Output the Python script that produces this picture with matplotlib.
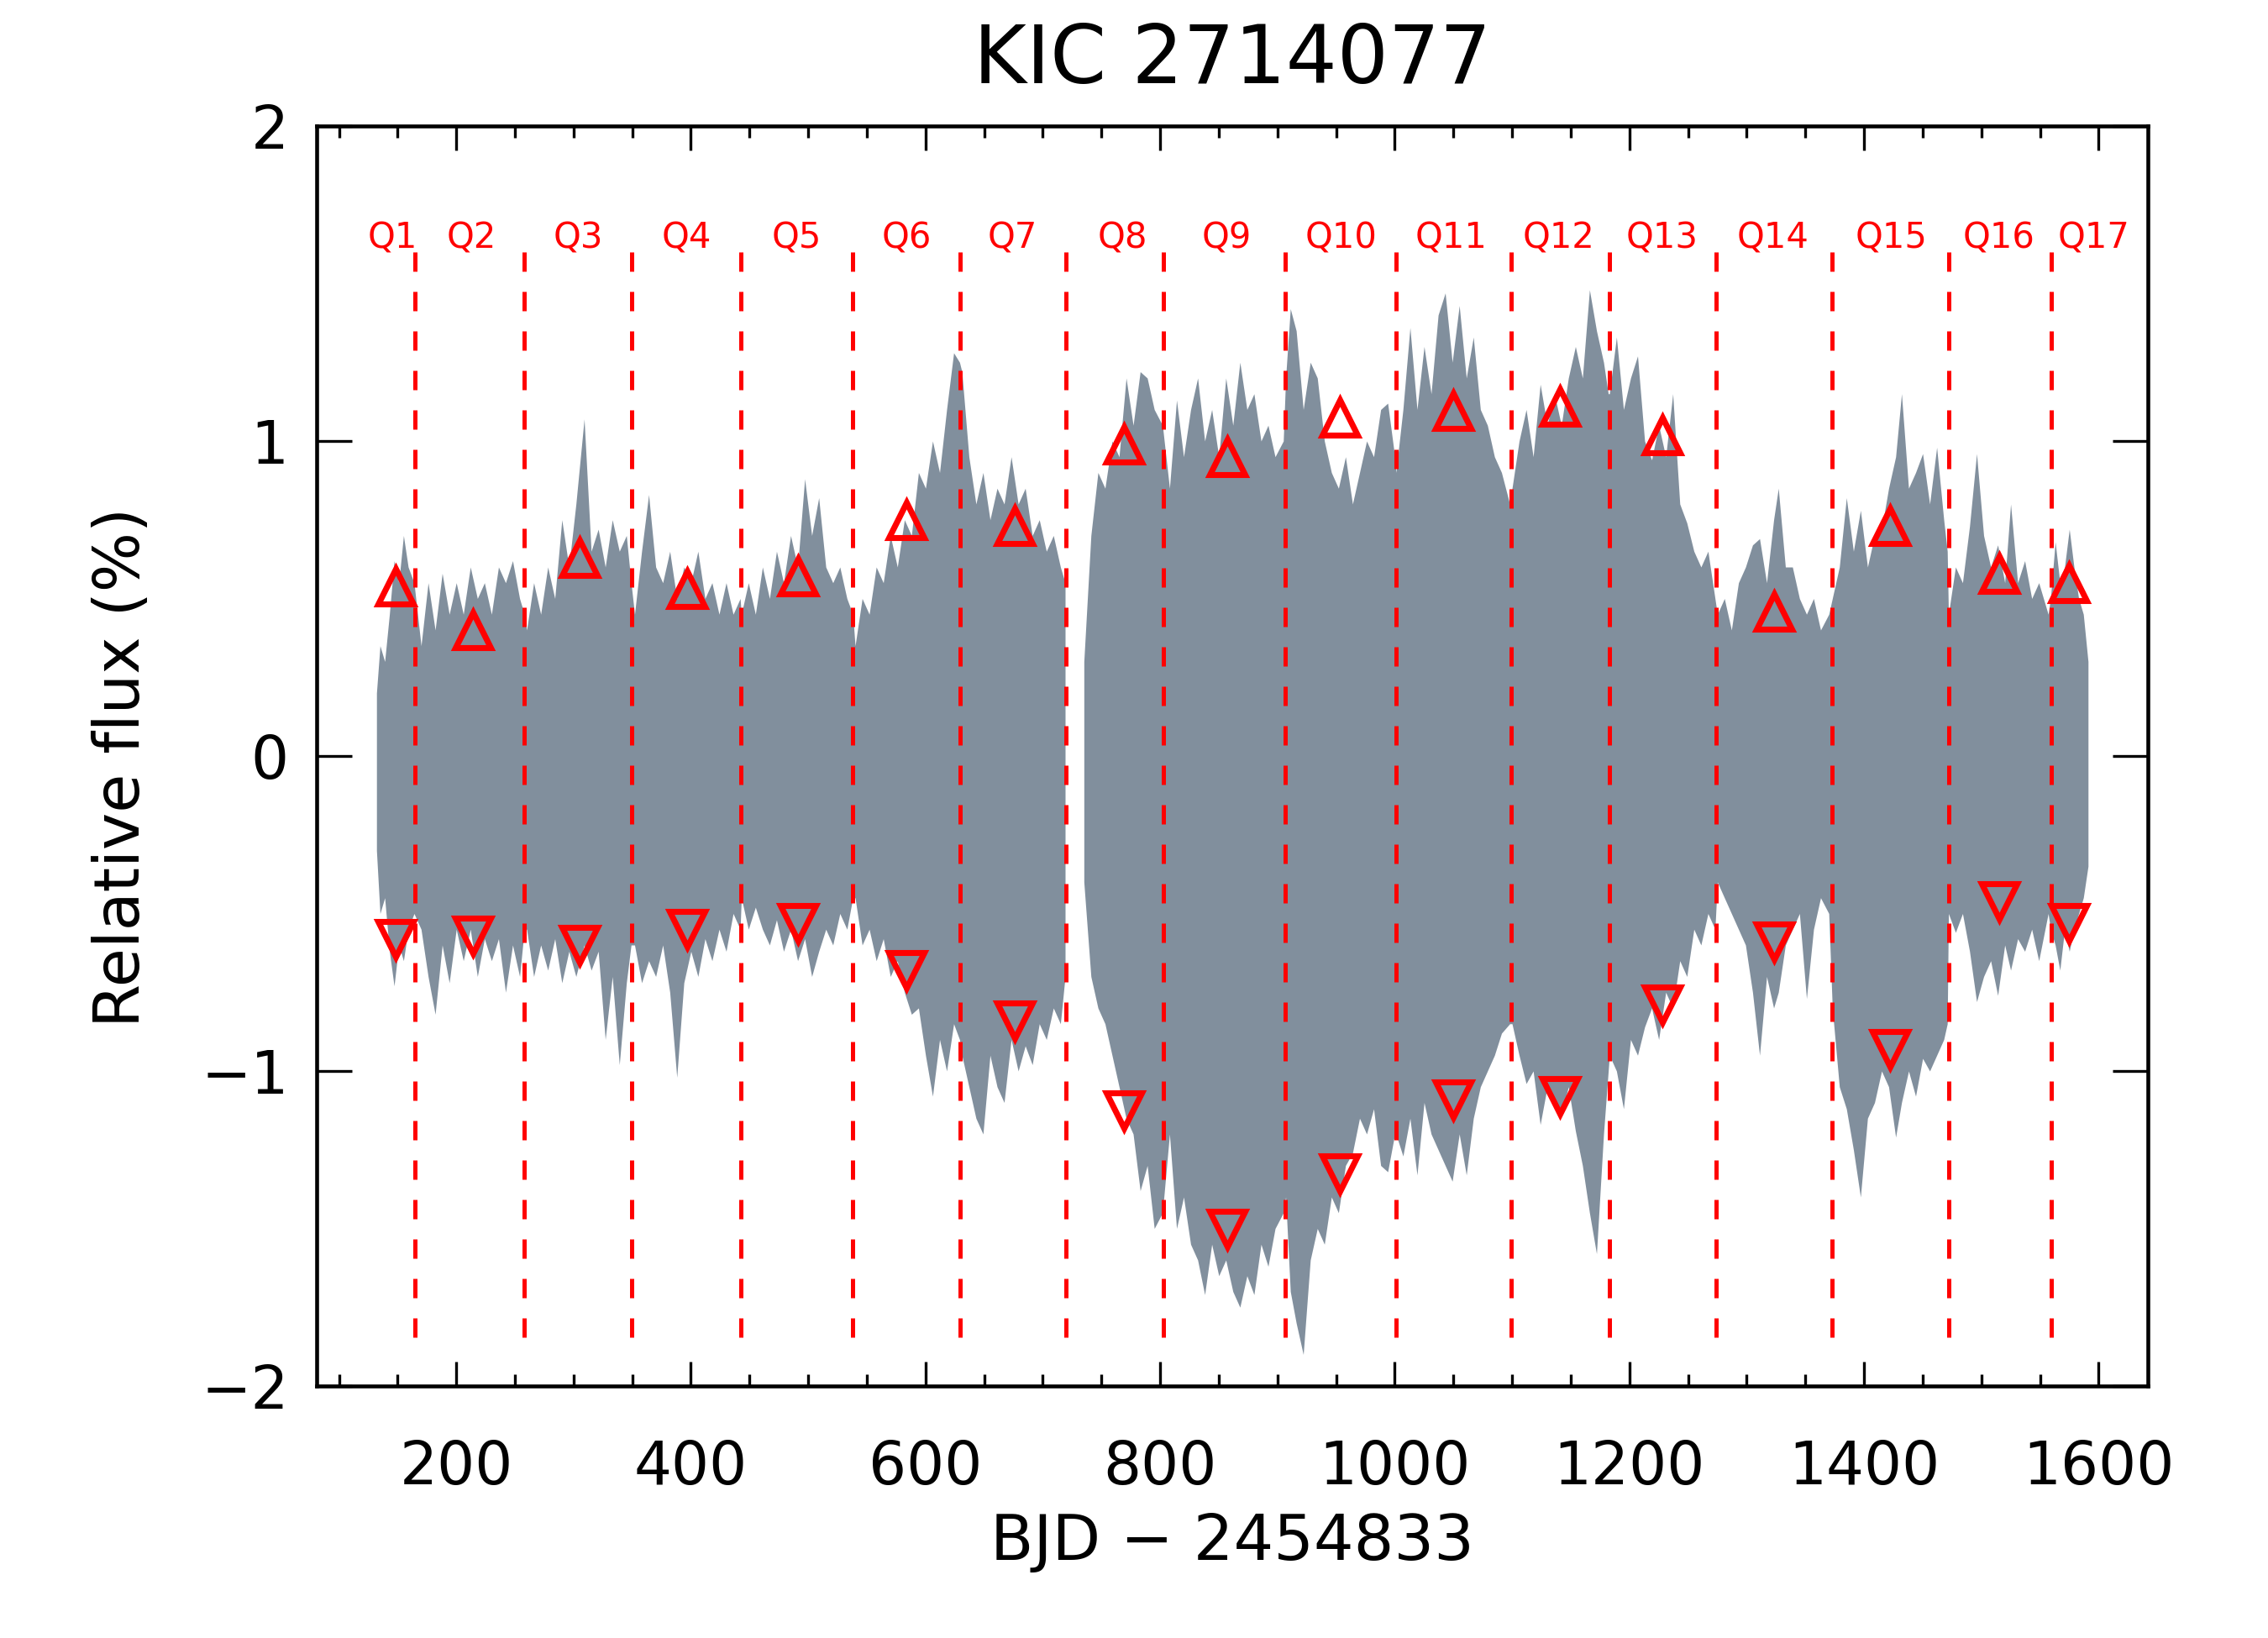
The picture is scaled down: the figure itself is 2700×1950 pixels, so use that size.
import numpy as np
import matplotlib
matplotlib.use("Agg")
import matplotlib.pyplot as plt
from matplotlib.ticker import MultipleLocator

# ---------------- data ----------------
# light-curve envelope: time (BJD-2454833), upper and lower flux envelope (%)
t_nodes = [
    132, 135, 139, 143, 147, 151, 155, 159, 164,
    170, 176, 182, 188, 194, 200, 206, 212, 218, 224, 230, 236, 242, 248, 254, 258,
    260, 266, 272, 278, 284, 290, 296, 302, 309, 315, 321, 327, 333, 339, 345, 349,
    352, 358, 364, 370, 376, 382, 388, 394, 400, 406, 412, 418, 424, 430, 436, 442,
    443, 449, 455, 461, 467, 473, 479, 485, 491, 497, 503, 509, 515, 521, 527, 533, 538,
    540, 546, 552, 558, 564, 570, 576, 582, 588, 594, 600, 606, 612, 618, 624, 629,
    631, 637, 643, 649, 655, 661, 667, 673, 679, 685, 691, 697, 703, 709, 715, 719,
    735, 741, 747, 753, 759, 765, 771, 777, 783, 789, 795, 802,
    808, 814, 820, 826, 832, 838, 844, 850, 856, 862, 868, 874, 880, 886, 892, 898, 905,
    907, 911, 916, 922, 928, 934, 940, 946, 952, 958, 964, 970, 976, 982, 988, 994, 1000,
    1001, 1007, 1013, 1019, 1025, 1031, 1037, 1043, 1049, 1055, 1061, 1067, 1073, 1079, 1085, 1091, 1098,
    1100, 1106, 1112, 1118, 1124, 1130, 1136, 1142, 1148, 1154, 1160, 1166, 1172, 1178, 1182,
    1183, 1189, 1195, 1201, 1207, 1213, 1219, 1225, 1231, 1237, 1243, 1249, 1255, 1261, 1267, 1273,
    1275, 1281, 1287, 1293, 1299, 1305, 1311, 1317, 1323, 1327, 1333, 1339, 1345, 1351, 1357, 1363, 1370,
    1373, 1379, 1385, 1391, 1397, 1403, 1409, 1415, 1421, 1427, 1432, 1438, 1444, 1450, 1456, 1462, 1468, 1471,
    1472, 1478, 1484, 1490, 1496, 1502, 1508, 1514, 1520, 1525, 1531, 1537, 1543, 1549, 1557,
    1559, 1563, 1567, 1571, 1575, 1579, 1583, 1587, 1591,
]
flux_upper = [
    0.20, 0.35, 0.30, 0.45, 0.62, 0.55, 0.70, 0.60, 0.55,
    0.35, 0.55, 0.40, 0.58, 0.45, 0.55, 0.45, 0.60, 0.50, 0.55, 0.45, 0.60, 0.55, 0.62, 0.50, 0.45,
    0.40, 0.55, 0.45, 0.60, 0.50, 0.75, 0.60, 0.80, 1.07, 0.65, 0.72, 0.60, 0.75, 0.65, 0.70, 0.55,
    0.45, 0.65, 0.83, 0.60, 0.55, 0.65, 0.50, 0.60, 0.55, 0.65, 0.50, 0.55, 0.45, 0.55, 0.45, 0.50,
    0.45, 0.55, 0.45, 0.60, 0.50, 0.65, 0.55, 0.70, 0.60, 0.88, 0.70, 0.82, 0.60, 0.55, 0.60, 0.50, 0.45,
    0.35, 0.50, 0.45, 0.60, 0.55, 0.70, 0.60, 0.75, 0.70, 0.90, 0.85, 1.00, 0.90, 1.10, 1.28, 1.25,
    1.22, 0.95, 0.80, 0.90, 0.75, 0.85, 0.80, 0.95, 0.80, 0.85, 0.70, 0.75, 0.65, 0.70, 0.60, 0.55,
    0.30, 0.70, 0.90, 0.85, 1.00, 0.95, 1.20, 1.05, 1.22, 1.20, 1.10, 1.05,
    0.85, 1.13, 0.95, 1.10, 1.20, 1.00, 1.10, 0.95, 1.20, 1.05, 1.25, 1.10, 1.15, 1.00, 1.05, 0.95, 1.00,
    1.20, 1.42, 1.35, 1.10, 1.25, 1.20, 1.00, 0.90, 0.85, 0.95, 0.80, 0.90, 1.00, 0.95, 1.10, 1.12, 0.95,
    0.90, 1.10, 1.36, 1.10, 1.30, 1.15, 1.40, 1.47, 1.25, 1.43, 1.20, 1.33, 1.10, 1.05, 0.95, 0.90, 0.80,
    0.85, 1.00, 1.10, 0.95, 1.18, 1.05, 1.15, 1.05, 1.20, 1.30, 1.20, 1.48, 1.35, 1.25, 1.15,
    1.15, 1.33, 1.10, 1.20, 1.27, 1.00, 0.94, 1.05, 0.95, 1.15, 0.80, 0.74, 0.65, 0.60, 0.65, 0.50,
    0.45, 0.50, 0.40, 0.55, 0.60, 0.67, 0.69, 0.55, 0.75, 0.85, 0.60, 0.60, 0.50, 0.45, 0.50, 0.40, 0.45,
    0.50, 0.60, 0.82, 0.65, 0.78, 0.60, 0.70, 0.72, 0.85, 0.95, 1.15, 0.85, 0.90, 0.96, 0.80, 0.98, 0.75, 0.65,
    0.45, 0.60, 0.55, 0.73, 0.96, 0.70, 0.60, 0.67, 0.55, 0.80, 0.55, 0.62, 0.50, 0.55, 0.45,
    0.50, 0.68, 0.55, 0.60, 0.72, 0.60, 0.50, 0.45, 0.30,
]
flux_lower = [
    -0.30, -0.50, -0.45, -0.62, -0.73, -0.60, -0.65, -0.55, -0.50,
    -0.55, -0.70, -0.82, -0.60, -0.72, -0.55, -0.65, -0.55, -0.70, -0.58, -0.65, -0.58, -0.75, -0.60, -0.70, -0.55,
    -0.55, -0.70, -0.60, -0.68, -0.58, -0.72, -0.62, -0.70, -0.60, -0.68, -0.62, -0.90, -0.70, -0.98, -0.72, -0.60,
    -0.60, -0.72, -0.65, -0.70, -0.60, -0.75, -1.02, -0.72, -0.62, -0.70, -0.58, -0.65, -0.55, -0.62, -0.50, -0.55,
    -0.45, -0.55, -0.48, -0.55, -0.60, -0.52, -0.62, -0.55, -0.65, -0.58, -0.70, -0.62, -0.55, -0.60, -0.50, -0.55, -0.45,
    -0.45, -0.60, -0.55, -0.65, -0.58, -0.70, -0.65, -0.75, -0.82, -0.80, -0.95, -1.08, -0.90, -1.00, -0.85, -0.90,
    -0.95, -1.05, -1.15, -1.20, -0.95, -1.05, -1.10, -0.90, -1.00, -0.92, -0.98, -0.85, -0.90, -0.80, -0.85, -0.70,
    -0.40, -0.70, -0.80, -0.85, -0.95, -1.05, -1.15, -1.20, -1.38, -1.30, -1.50, -1.45,
    -1.20, -1.50, -1.40, -1.55, -1.60, -1.71, -1.55, -1.65, -1.60, -1.70, -1.75, -1.65, -1.71, -1.55, -1.62, -1.50, -1.45,
    -1.40, -1.70, -1.80, -1.90, -1.60, -1.50, -1.55, -1.40, -1.45, -1.30, -1.26, -1.15, -1.20, -1.12, -1.30, -1.32, -1.20,
    -1.20, -1.27, -1.15, -1.33, -1.10, -1.20, -1.25, -1.30, -1.35, -1.20, -1.33, -1.15, -1.05, -1.00, -0.95, -0.88, -0.85,
    -0.85, -0.95, -1.04, -1.00, -1.17, -1.05, -1.10, -1.14, -1.05, -1.19, -1.30, -1.45, -1.58, -1.20, -1.00,
    -0.95, -1.00, -1.12, -0.90, -0.95, -0.86, -0.80, -0.90, -0.75, -0.80, -0.65, -0.70, -0.55, -0.60, -0.50, -0.55,
    -0.40, -0.45, -0.50, -0.55, -0.60, -0.75, -0.95, -0.70, -0.80, -0.75, -0.60, -0.55, -0.50, -0.77, -0.55, -0.45, -0.50,
    -0.80, -1.05, -1.12, -1.25, -1.40, -1.15, -1.10, -1.00, -1.05, -1.21, -1.10, -1.00, -1.08, -0.96, -1.00, -0.95, -0.90, -0.85,
    -0.50, -0.56, -0.50, -0.62, -0.78, -0.70, -0.65, -0.76, -0.60, -0.68, -0.58, -0.62, -0.55, -0.65, -0.50,
    -0.55, -0.60, -0.68, -0.55, -0.62, -0.55, -0.50, -0.45, -0.35,
]

# quarter boundaries (dashed lines) and quarter labels
quarter_bounds = [164.6, 258.2, 349.5, 442.4, 538.1, 629.7, 719.8, 802.8,
                  906.4, 1000.9, 1099.5, 1182.9, 1274.2, 1372.5, 1472.5, 1559.4]
quarter_labels = ["Q1", "Q2", "Q3", "Q4", "Q5", "Q6", "Q7", "Q8", "Q9",
                  "Q10", "Q11", "Q12", "Q13", "Q14", "Q15", "Q16", "Q17"]
label_x = [146, 213, 304, 396, 490, 584, 674, 768, 857,
           954, 1048, 1140, 1228, 1322, 1423, 1515, 1596]

# per-quarter amplitude markers
tri_time = [148, 214, 305, 397, 491, 584, 676, 769, 857,
            953, 1050, 1141, 1228, 1323, 1422, 1515, 1575]
amp_max = [0.54, 0.40, 0.63, 0.53, 0.57, 0.75, 0.73, 0.99, 0.95,
           1.075, 1.095, 1.11, 1.02, 0.46, 0.73, 0.58, 0.55]
amp_min = [-0.58, -0.57, -0.60, -0.55, -0.53, -0.68, -0.84, -1.125, -1.50,
           -1.325, -1.09, -1.08, -0.79, -0.59, -0.93, -0.46, -0.53]

# ---------------- figure ----------------
GRAY = "#708090"
RED = "#ff0000"

fig = plt.figure(figsize=(9, 6.5), dpi=300)
ax = fig.add_axes([377 / 2700, 1 - 1650 / 1950, 2180 / 2700, 1500 / 1950])

t = np.asarray(t_nodes, float)
up = np.asarray(flux_upper, float)
lo = np.asarray(flux_lower, float)
breaks = np.where(np.diff(t) > 10)[0] + 1
for seg in np.split(np.arange(len(t)), breaks):
    ax.fill_between(t[seg], lo[seg], up[seg], color=GRAY, alpha=0.88,
                    lw=0, zorder=1)

for xb in quarter_bounds:
    ax.plot([xb, xb], [1.60, -1.87], color=RED, lw=1.2,
            linestyle=(0, (4.6, 4.8)), zorder=3)

for lab, xl in zip(quarter_labels, label_x):
    ax.text(xl, 1.643, lab, color=RED, fontsize=10, ha="center", va="center",
            zorder=5)

ax.plot(tri_time, amp_max, ls="none", marker="^", ms=10, mfc="none",
        mec=RED, mew=1.7, zorder=4)
ax.plot(tri_time, amp_min, ls="none", marker="v", ms=10, mfc="none",
        mec=RED, mew=1.7, zorder=4)

ax.set_xlim(81, 1642)
ax.set_ylim(-2, 2)
ax.xaxis.set_major_locator(MultipleLocator(200))
ax.xaxis.set_minor_locator(MultipleLocator(50))
ax.yaxis.set_major_locator(MultipleLocator(1))
ax.tick_params(axis="x", which="major", direction="in", length=7, width=0.8,
               top=True, labelsize=17, pad=15)
ax.tick_params(axis="x", which="minor", direction="in", length=3.4, width=0.8,
               top=True)
ax.tick_params(axis="y", which="major", direction="in", length=10, width=0.8,
               right=True, labelsize=17, pad=8)
for sp in ax.spines.values():
    sp.set_linewidth(1.1)

fig.text(1467 / 2700, 1 - 72 / 1950, "KIC 2714077", fontsize=23,
         ha="center", va="center")
fig.text(1467 / 2700, 1 - 1836 / 1950, "BJD \u2212 2454833", fontsize=18,
         ha="center", va="center")
fig.text(146 / 2700, 1 - 913 / 1950, "Relative flux (%)", fontsize=18,
         ha="center", va="center", rotation=90)

fig.savefig("out.png", dpi=300)
